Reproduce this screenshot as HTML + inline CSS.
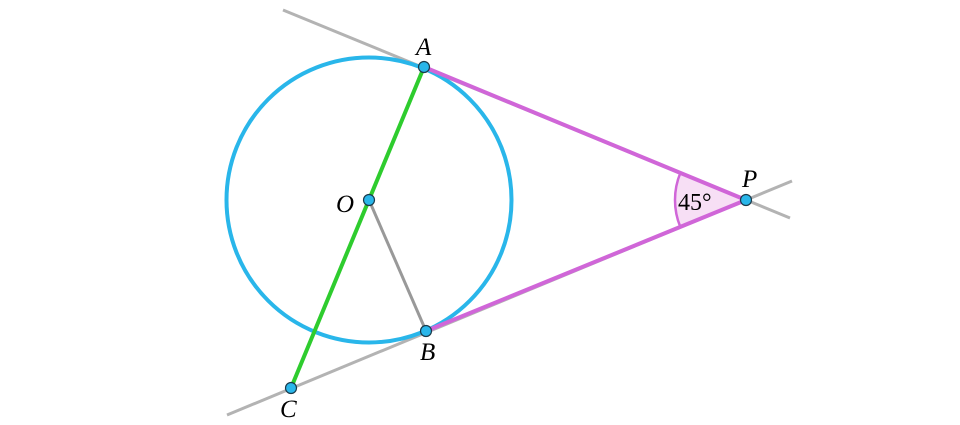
<!DOCTYPE html>
<html><head><style>html,body{margin:0;padding:0;background:#fff;width:960px;height:425px;overflow:hidden}</style></head>
<body>
<svg width="960" height="425" viewBox="0 0 960 425" xmlns="http://www.w3.org/2000/svg">
<g stroke="#b3b3b3" stroke-width="3" fill="none">
<line x1="283" y1="10" x2="790" y2="218"/>
<line x1="227" y1="415" x2="792" y2="181"/>
</g>
<path d="M746,200 L680.4,172.8 A71,71 0 0 0 680.3,226.9 Z" fill="#f7dff5" stroke="none"/>
<path d="M680.4,172.8 A71,71 0 0 0 680.3,226.9" fill="none" stroke="#d066d8" stroke-width="2.5"/>
<circle cx="369" cy="200" r="142.5" fill="none" stroke="#29b6ea" stroke-width="4"/>
<line x1="369" y1="200" x2="426" y2="331" stroke="#999" stroke-width="3"/>
<line x1="424" y1="67" x2="291" y2="388" stroke="#2ecc2e" stroke-width="4"/>
<g stroke="#d066d8" stroke-width="4">
<line x1="424" y1="67" x2="746" y2="200"/>
<line x1="426" y1="331" x2="746" y2="200"/>
</g>
<g fill="#29b6ea" stroke="#1a3a4a" stroke-width="1.2">
<circle cx="424" cy="67" r="5.5"/>
<circle cx="426" cy="331" r="5.5"/>
<circle cx="369" cy="200" r="5.5"/>
<circle cx="746" cy="200" r="5.5"/>
<circle cx="291" cy="388" r="5.5"/>
</g>
<g font-family="Liberation Serif, serif" font-size="25" font-style="italic" fill="#000">
<text x="416" y="55">A</text>
<text x="420" y="360">B</text>
<text x="336" y="212">O</text>
<text x="742" y="187">P</text>
<text x="280" y="417">C</text>
</g>
<text x="678" y="210" font-family="Liberation Serif, serif" font-size="24" fill="#000">45°</text>
</svg>
</body></html>
